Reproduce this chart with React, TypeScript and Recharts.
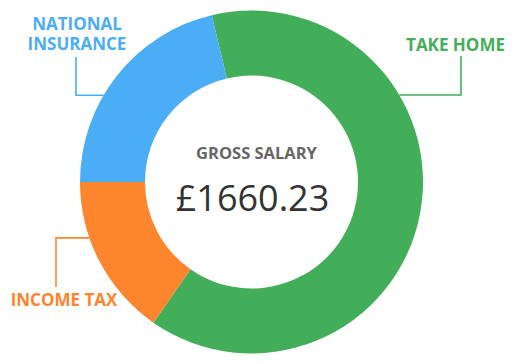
import React from 'react';
import { PieChart, Pie, Cell } from 'recharts';

const categories = ['TAKE HOME', 'INCOME TAX', 'NATIONAL INSURANCE'];
const amounts = [1052.83, 254.1, 353.3];
const colors = ['#43ae5a', '#fd852e', '#4aadf5'];
const grossTitle = 'GROSS SALARY';
const grossValue = '£1660.23';

const data = categories.map((name, i) => ({ name, value: amounts[i] }));

// callout placement, relative to the pie centre
const callouts: Record<string, { angle: number; elbowDx: number; endDy: number; textDx: number; textDy: number; lines: string[] }> = {
  'TAKE HOME': { angle: 30.5, elbowDx: 209.5, endDy: -126, textDx: 204, textDy: -131, lines: ['TAKE HOME'] },
  'NATIONAL INSURANCE': { angle: 149.6, elbowDx: -175.5, endDy: -125, textDx: -174.5, textDy: -152.5, lines: ['NATIONAL', 'INSURANCE'] },
  'INCOME TAX': { angle: 199, elbowDx: -195.5, endDy: 105, textDx: -187.5, textDy: 124, lines: ['INCOME TAX'] },
};

const RADIAN = Math.PI / 180;
const FONT = "'Open Sans', sans-serif";

const renderCallout = (props: any) => {
  const { cx, cy, outerRadius, index } = props;
  const name = categories[index];
  const c = callouts[name];
  const color = colors[index];
  const ax = cx + outerRadius * Math.cos(c.angle * RADIAN);
  const ay = cy - outerRadius * Math.sin(c.angle * RADIAN);
  const ex = cx + c.elbowDx;
  const ey = cy + c.endDy;
  return (
    <g>
      <polyline points={`${ax},${ay} ${ex},${ay} ${ex},${ey}`} fill="none" stroke={color} strokeWidth={1.6} />
      {c.lines.map((line, i) => (
        <text
          key={line}
          x={cx + c.textDx}
          y={cy + c.textDy + i * 20}
          textAnchor="middle"
          fill={color}
          fontSize={17}
          fontWeight={700}
          fontFamily={FONT}
        >
          {line}
        </text>
      ))}
      {index === 0 && (
        <g fontFamily={FONT}>
          <text x={cx + 5} y={cy - 23} textAnchor="middle" fill="#666" fontSize={16.5} fontWeight={700}>
            {grossTitle}
          </text>
          <text x={cx + 1} y={cy + 28.7} textAnchor="middle" fill="#333" fontSize={36}>
            {grossValue}
          </text>
        </g>
      )}
    </g>
  );
};

export default function App() {
  return (
    <div style={{ position: 'absolute', left: 0, top: 0, width: 520, height: 364 }}>
      <PieChart width={520} height={364} margin={{ top: 0, right: 0, bottom: 0, left: 0 }}>
        <Pie
          data={data}
          dataKey="value"
          nameKey="name"
          cx={251.5}
          cy={182}
          innerRadius={106.5}
          outerRadius={171.5}
          startAngle={103.4}
          endAngle={-256.6}
          stroke="none"
          label={renderCallout}
          labelLine={false}
          isAnimationActive={false}
        >
          {data.map((d, i) => (
            <Cell key={d.name} fill={colors[i]} />
          ))}
        </Pie>
      </PieChart>
    </div>
  );
}
